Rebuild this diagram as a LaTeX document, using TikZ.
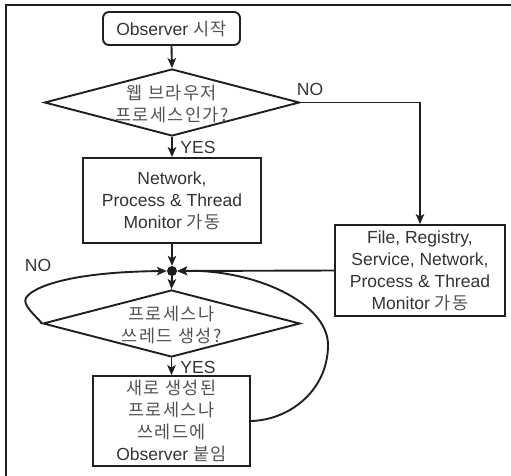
\documentclass[tikz,border=0pt]{standalone}
\usepackage{fontspec}
\setmainfont{Liberation Sans}
\newfontfamily\krfont{Noto Sans CJK KR}[LetterSpace=8]
\newcommand{\kr}{\krfont\color{black!68}}
\usetikzlibrary{shapes.geometric,arrows.meta}
\tikzset{
  basefont/.style={font={\fontsize{17.5}{22}\selectfont}, text=black!80},
  flowline/.style={line width=1.9pt, draw=black!88},
  arr/.style={flowline, -{Stealth[length=10pt,width=8.5pt,inset=2.5pt]}},
  boxnode/.style={basefont, flowline, rectangle, align=center, inner sep=0pt},
  startnode/.style={boxnode, rounded corners=6pt},
  dianode/.style={flowline, diamond, inner sep=0pt},
  dtext/.style={basefont, align=center, inner sep=0pt},
  lbl/.style={basefont, inner sep=0pt},
  dotnode/.style={circle, fill=black!90, minimum size=10pt, inner sep=0pt}
}
\begin{document}
\begin{tikzpicture}[x=1pt,y=-1pt]
\useasboundingbox (0,0) rectangle (511,475);
% frame
\draw[line width=1.6pt, draw=black!88] (6,476) -- (6,5) -- (512,5);

\node[startnode, minimum width=137pt, minimum height=33pt] (start) at (171.5,28.5) {Observer {\kr 시작}};

\node[dianode, minimum width=255pt, minimum height=67pt] (d1) at (172,102.5) {};
\node[dtext] (d1t) at (172,104) {{\kr 웹 브라우저}\\{\kr 프로세스인가?}};

\node[boxnode, minimum width=178pt, minimum height=85pt] (b2) at (172,200.5) {Network,\\Process \& Thread\\Monitor {\kr 가동}};

\node[boxnode, minimum width=170pt, minimum height=91pt] (rb) at (420,270.5) {File, Registry,\\Service, Network,\\Process \& Thread\\Monitor {\kr 가동}};

\node[dotnode] (dot) at (172,271) {};

\node[dianode, minimum width=257pt, minimum height=67pt] (d2) at (171.5,323.5) {};
\node[dtext] (d2t) at (171.5,325) {{\kr 프로세스나}\\{\kr 쓰레드 생성?}};

\node[boxnode, minimum width=157pt, minimum height=90pt] (b3) at (171.5,421) {{\kr 새로 생성된}\\{\kr 프로세스나}\\{\kr 쓰레드에}\\Observer {\kr 붙임}};

% labels
\node[lbl] (no1) at (310,89) {NO};
\node[lbl] (yes1) at (198,147) {YES};
\node[lbl] (no2) at (38,265) {NO};
\node[lbl] (yes2) at (198,367) {YES};

% connectors
\draw[arr] (start.south) -- (d1.north);
\draw[arr] (d1.south) -- (b2.north);
\draw[arr] (d1.east) -| (rb.north);
\draw[arr] (b2.south) -- (dot.north);
\draw[arr] (rb.west) -- (dot.east);
\draw[arr] (dot.south) -- (d2.north);
\draw[arr] (d2.south) -- (b3.north);
\draw[arr] (d2.west) .. controls (35,315) and (22,305) .. (26,298)
   .. controls (30,290) and (60,272) .. (dot.west);
\draw[arr] (b3.east) .. controls (290,420) and (328,390) .. (328,345)
   .. controls (328,303) and (255,269) .. (dot.east);
\end{tikzpicture}
\end{document}
